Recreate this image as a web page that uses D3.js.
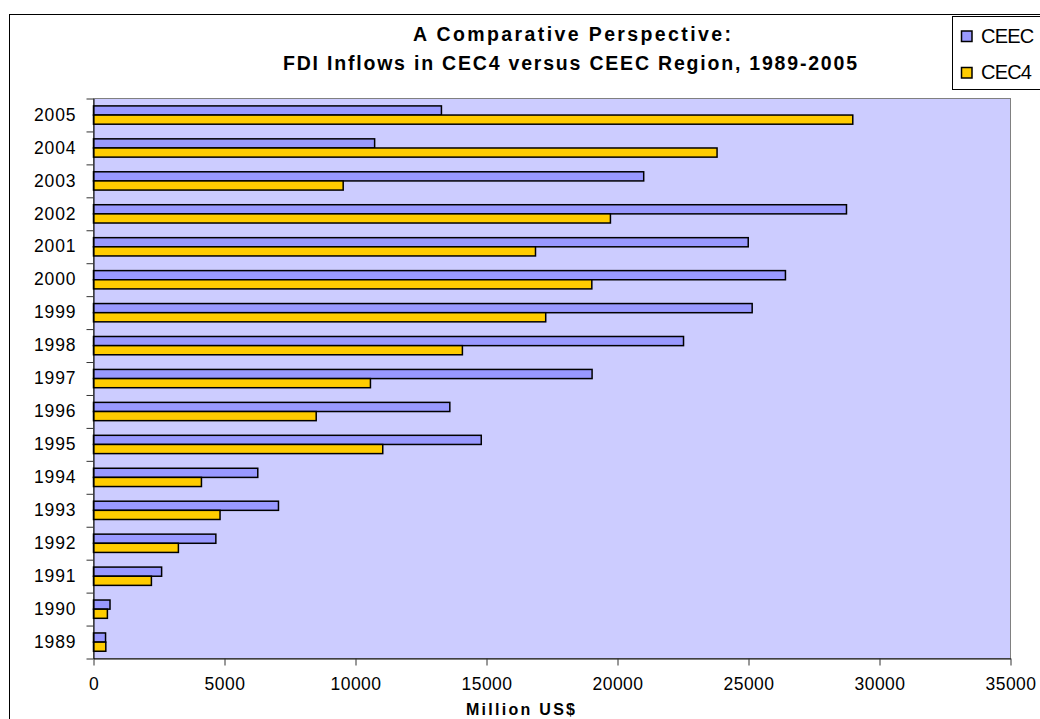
<!DOCTYPE html>
<html>
<head>
<meta charset="utf-8">
<script src="https://cdn.jsdelivr.net/npm/d3@7"></script>
<style>
  html, body { margin: 0; padding: 0; background: #ffffff; }
  svg { display: block; font-family: "Liberation Sans", Arial, sans-serif; }
</style>
</head>
<body>
<svg id="chart" width="1040" height="719"></svg>
<script>
// ---- data ----
const years = ["1989","1990","1991","1992","1993","1994","1995","1996","1997","1998","1999","2000","2001","2002","2003","2004","2005"];
const seriesNames = ["CEEC", "CEC4"];
const ceec = [460, 630, 2600, 4670, 7060, 6270, 14800, 13600, 19030, 22520, 25140, 26410, 24990, 28740, 21000, 10730, 13280];
const cec4 = [470, 530, 2210, 3240, 4830, 4120, 11040, 8500, 10570, 14080, 17260, 19020, 16870, 19730, 9530, 23800, 28980];
const xTickValues = [0, 5000, 10000, 15000, 20000, 25000, 30000, 35000];
const titleLines = ["A Comparative Perspective:", "FDI Inflows in CEC4 versus CEEC Region, 1989-2005"];
const xAxisTitle = "Million US$";
const colors = { CEEC: "#9999FF", CEC4: "#FFCC00" };

// ---- layout ----
const svg = d3.select("#chart");
const plot = { left: 93, top: 98, right: 1010, bottom: 658 };

// outer chart border
svg.append("rect")
  .attr("x", 9.5).attr("y", 14.5)
  .attr("width", 1100).attr("height", 800)
  .attr("fill", "#ffffff").attr("stroke", "#000000").attr("stroke-width", 1);

// scales
const x = d3.scaleLinear().domain([0, 35000]).range([plot.left + 0.5, plot.right + 0.5]);
const yCat = d3.scaleBand().domain(years.slice().reverse()).range([plot.top, plot.bottom]).padding(0);
const step = yCat.step();
const ySub = d3.scaleBand().domain(seriesNames).range([step * 0.24, step * 0.795]).padding(0);
const yIdx = d3.scaleLinear().domain([0, years.length]).range([plot.bottom + 0.5, plot.top + 0.5]);

// plot area background
svg.append("rect")
  .attr("x", plot.left + 0.5).attr("y", plot.top + 0.5)
  .attr("width", plot.right - plot.left).attr("height", plot.bottom - plot.top)
  .attr("fill", "#CCCCFF").attr("stroke", "#808080").attr("stroke-width", 1);

// bars
const rows = years.map((yr, i) => ({ year: yr, CEEC: ceec[i], CEC4: cec4[i] }));
const groups = svg.append("g").selectAll("g").data(rows).join("g")
  .attr("transform", d => `translate(0,${yCat(d.year)})`);
groups.selectAll("rect")
  .data(d => seriesNames.map(s => ({ key: s, value: d[s] })))
  .join("rect")
  .attr("x", x(0))
  .attr("y", d => ySub(d.key))
  .attr("width", d => x(d.value) - x(0))
  .attr("height", ySub.bandwidth())
  .attr("fill", d => colors[d.key])
  .attr("stroke", "#000000")
  .attr("stroke-width", 1.5);

// y axis: tick marks at category boundaries
const yTickAxis = d3.axisLeft(yIdx).tickValues(d3.range(0, years.length + 1)).tickSize(7).tickSizeOuter(0).tickFormat("");
const gy = svg.append("g").attr("transform", `translate(${plot.left + 0.5},0)`).call(yTickAxis);
gy.select(".domain").attr("stroke", "#000000");
gy.selectAll(".tick line").attr("stroke", "#333333");

// y axis labels at category centers
const yLabelAxis = d3.axisLeft(yCat).tickSize(0).tickPadding(17);
const gyl = svg.append("g").attr("transform", `translate(${plot.left + 0.5},0)`).call(yLabelAxis);
gyl.select(".domain").remove();
gyl.selectAll("text")
  .attr("font-family", "'Liberation Sans', Arial, sans-serif")
  .attr("font-size", "17.5px").attr("fill", "#000000")
  .attr("letter-spacing", "0.9px")
  .attr("dy", "0.355em");

// x axis
const xAxis = d3.axisBottom(x).tickValues(xTickValues).tickSize(7).tickSizeOuter(0).tickPadding(12).tickFormat(d3.format("d"));
const gx = svg.append("g").attr("transform", `translate(0,${plot.bottom + 0.5})`).call(xAxis);
gx.select(".domain").attr("stroke", "#000000");
gx.selectAll(".tick line").attr("stroke", "#333333");
gx.selectAll("text")
  .attr("font-family", "'Liberation Sans', Arial, sans-serif")
  .attr("font-size", "17.5px").attr("fill", "#000000")
  .attr("letter-spacing", "0.5px");

// x axis title
svg.append("text")
  .attr("x", 466).attr("y", 715)
  .attr("font-size", "16px").attr("font-weight", "bold")
  .attr("textLength", 109).attr("lengthAdjust", "spacing")
  .text(xAxisTitle);

// title
const titleSpecs = [
  { text: titleLines[0], x: 413, y: 40.5, len: 318 },
  { text: titleLines[1], x: 283, y: 70, len: 574 }
];
svg.append("g").selectAll("text").data(titleSpecs).join("text")
  .attr("x", d => d.x).attr("y", d => d.y)
  .attr("font-size", "19.5px").attr("font-weight", "bold").attr("fill", "#000000")
  .attr("textLength", d => d.len).attr("lengthAdjust", "spacing")
  .text(d => d.text);

// legend
const legend = svg.append("g");
legend.append("rect")
  .attr("x", 952.5).attr("y", 16.5).attr("width", 120).attr("height", 73)
  .attr("fill", "#ffffff").attr("stroke", "#000000").attr("stroke-width", 1);
const legendY = d3.scalePoint().domain(seriesNames).range([36.5, 73]);
const li = legend.selectAll("g.item").data(seriesNames).join("g").attr("class", "item")
  .attr("transform", d => `translate(0,${legendY(d)})`);
li.append("rect")
  .attr("x", 961.5).attr("y", -5.5).attr("width", 10.5).attr("height", 10.5)
  .attr("fill", d => colors[d]).attr("stroke", "#000000").attr("stroke-width", 1.5);
li.append("text")
  .attr("x", 981).attr("y", 6)
  .attr("font-size", "20px").attr("letter-spacing", "-0.8px").attr("fill", "#000000")
  .text(d => d);
</script>
</body>
</html>
